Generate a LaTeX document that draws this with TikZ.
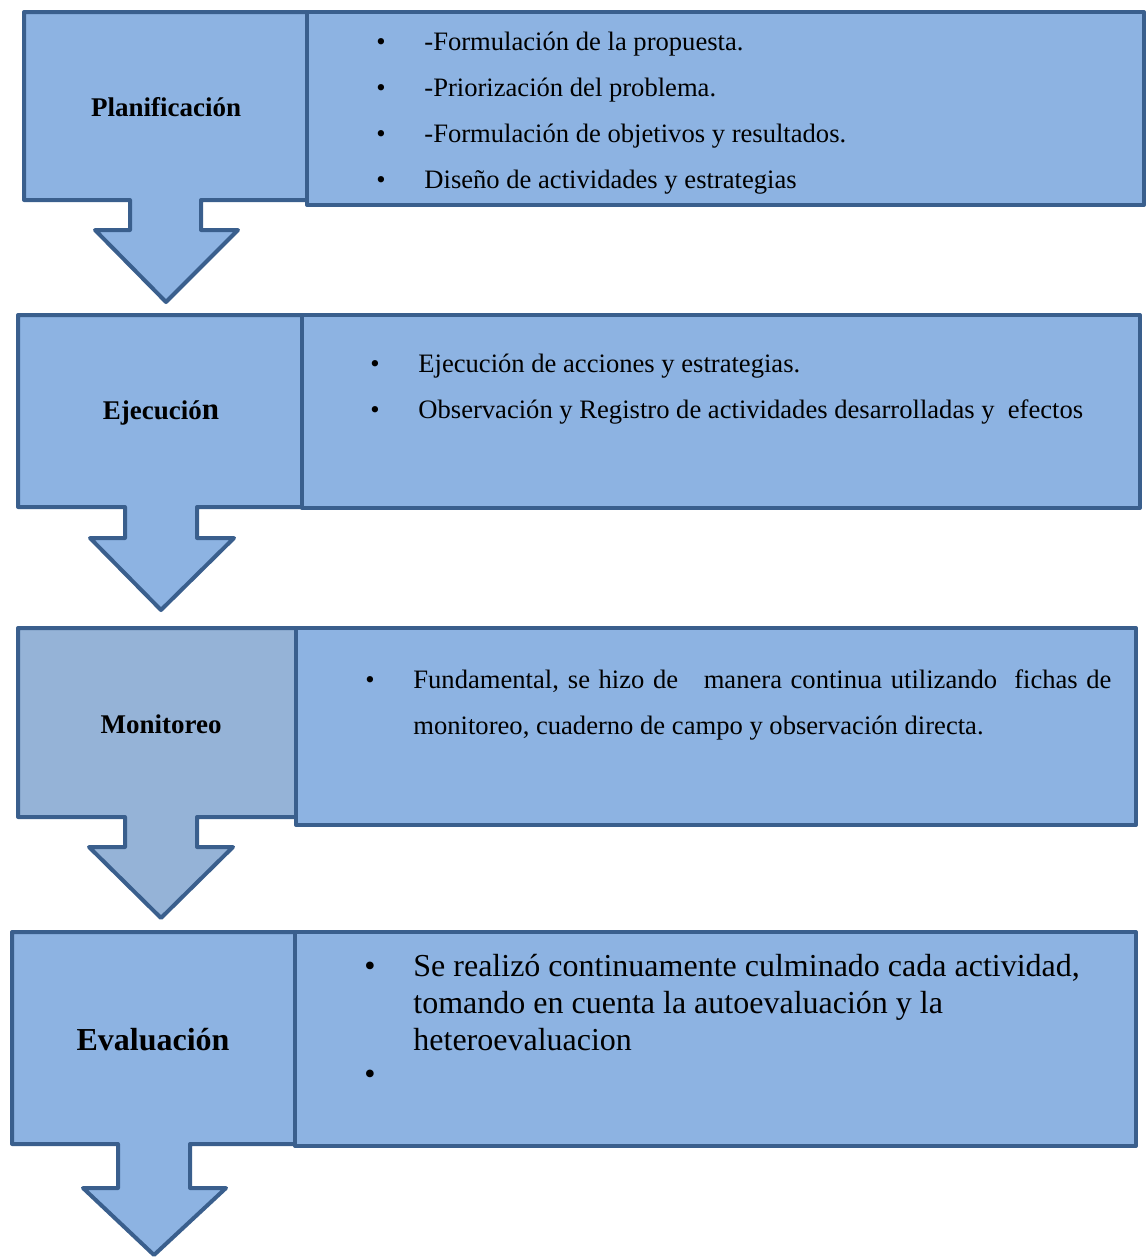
\documentclass[tikz,border=0pt]{standalone}
\usepackage{fontspec}
\setmainfont{Liberation Serif}
\definecolor{stepfill}{HTML}{8DB3E2}
\definecolor{monfill}{HTML}{95B3D7}
\definecolor{stepline}{HTML}{3A5F8D}
\tikzset{
	% shape with its arrow
	stepshape/.style={draw=stepline,fill=stepfill,line width=2pt,line join=round},
	% box with the list
	listbox/.style={draw=stepline,fill=stepfill,line width=2pt,line join=round},
	% texts
	steptitle/.style={font=\bfseries\fontsize{13.5}{16}\selectfont,inner sep=0pt},
	bul/.style={anchor=base,inner sep=0pt,font=\fontsize{13.3}{16}\selectfont},
	item/.style={anchor=base west,inner sep=0pt,font=\fontsize{13.3}{16}\selectfont},
	bigitem/.style={anchor=base west,inner sep=0pt,font=\fontsize{16}{19}\selectfont},
}

\begin{document}
\begin{tikzpicture}[x=0.5pt,y=-0.5pt]
	\useasboundingbox (0,0) rectangle (1146,1258);
	
	% Planificacion
	\draw[stepshape] (24,12) -- (307,12) -- (307,200) -- (201,200) -- (201,230) -- (238,230) -- (166,302) -- (95,230) -- (130,230) -- (130,200) -- (24,200) -- cycle;
	\draw[listbox] (307,12) rectangle (1144,205);
	\node[steptitle] (plan) at (166,107) {Planificación};
	\node[bul] (pb1) at (381,50) {•};
	\node[item] (pt1) at (424,50) {-Formulación de la propuesta.};
	\node[bul] (pb2) at (381,96) {•};
	\node[item] (pt2) at (424,96) {-Priorización del problema.};
	\node[bul] (pb3) at (381,142) {•};
	\node[item] (pt3) at (424,142) {-Formulación de objetivos y resultados.};
	\node[bul] (pb4) at (381,188) {•};
	\node[item] (pt4) at (424,188) {Diseño de actividades y estrategias};
	
	% Ejecucion
	\draw[stepshape] (18,315) -- (302,315) -- (302,507) -- (197,507) -- (197,538) -- (234,538) -- (161,610) -- (90,538) -- (125,538) -- (125,507) -- (18,507) -- cycle;
	\draw[listbox] (302,315) rectangle (1140,508);
	\node[steptitle] (ejec) at (161,413) {Ejecució{\fontsize{15.5}{18}\selectfont n}};
	\node[bul] (eb1) at (375,372) {•};
	\node[item] (et1) at (418,372) {Ejecución de acciones y estrategias.};
	\node[bul] (eb2) at (375,418) {•};
	\node[item] (et2) at (418,418) {Observación y Registro de actividades desarrolladas y\ \ efectos};
	
	% Monitoreo
	\draw[stepshape,fill=monfill] (18,628) -- (296,628) -- (296,817) -- (197,817) -- (197,847) -- (233,847) -- (161,918) -- (89,847) -- (125,847) -- (125,817) -- (18,817) -- cycle;
	\draw[listbox] (296,628) rectangle (1136,825);
	\node[steptitle] (moni) at (161,724) {Monitoreo};
	\node[bul] (mb1) at (370,688) {•};
	\node[item] (mt1) at (413,688) {\makebox[349pt][s]{Fundamental, se hizo de \ \ manera continua utilizando \ fichas de}};
	\node[item] (mt2) at (413,734) {monitoreo, cuaderno de campo y observación directa.};
	
	% Evaluacion
	\draw[stepshape] (12,932) -- (295,932) -- (295,1144) -- (190,1144) -- (190,1188) -- (226,1188) -- (154,1255) -- (83,1188) -- (118,1188) -- (118,1144) -- (12,1144) -- cycle;
	\draw[listbox] (295,932) rectangle (1136,1146);
	\node[steptitle,font=\bfseries\fontsize{16}{19}\selectfont] (eval) at (153,1040) {Evaluación};
	\node[bul,font=\fontsize{16}{19}\selectfont] (vb1) at (370,976) {•};
	\node[bigitem] (vt1) at (413,976) {Se realizó continuamente culminado cada actividad,};
	\node[bigitem] (vt2) at (413,1013) {tomando en cuenta la autoevaluación y la};
	\node[bigitem] (vt3) at (413,1050) {heteroevaluacion};
	\node[bul,font=\fontsize{16}{19}\selectfont] (vb2) at (370,1084) {•};
	
\end{tikzpicture}
\end{document}
